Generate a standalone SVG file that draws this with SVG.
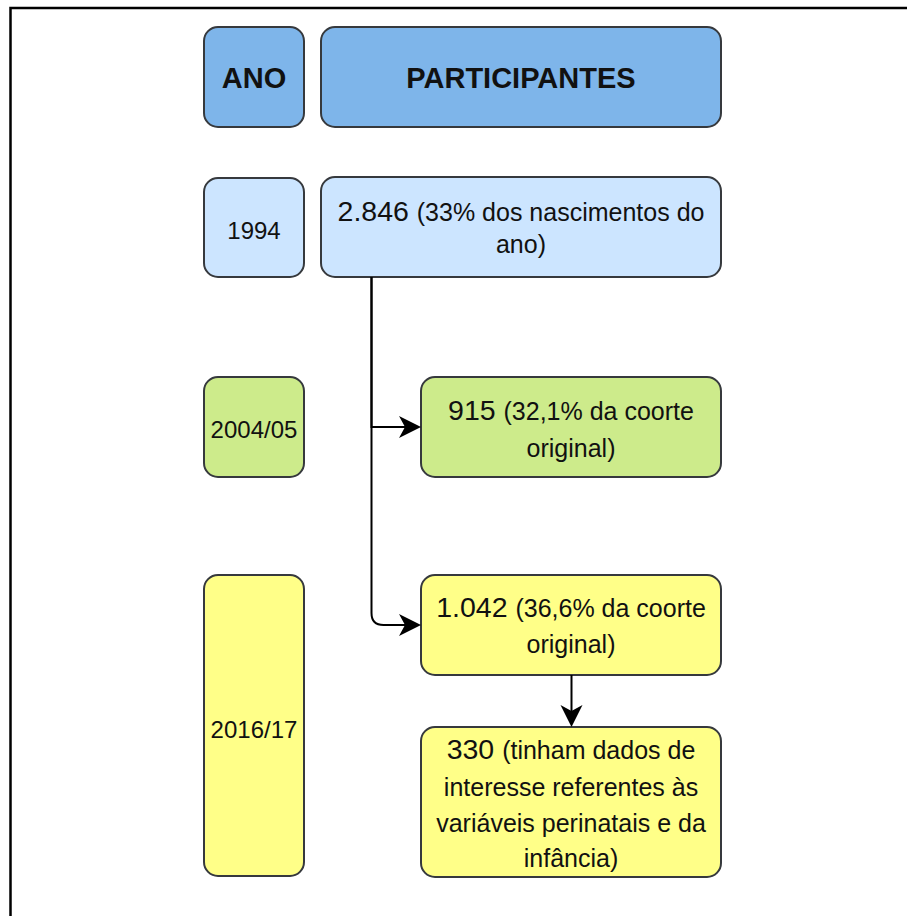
<svg xmlns="http://www.w3.org/2000/svg" width="907" height="916" viewBox="0 0 907 916">
<style>
.box{stroke:#36393d;stroke-width:2}
.hdr{fill:#7eb5ea}
.r1{fill:#cce5ff}
.r2{fill:#cdeb8b}
.r3{fill:#ffff88}
text{font-family:"Liberation Sans",Arial,sans-serif;fill:#111;text-anchor:middle}
.b{font-weight:bold;font-size:29px}
.y{font-size:24px}
.s{font-size:25px}
.l{font-size:28.5px}
.edge{fill:none;stroke:#000;stroke-width:2}
</style>
<defs>
<marker id="arr" markerUnits="userSpaceOnUse" markerWidth="24" markerHeight="24" refX="18" refY="11" orient="auto">
<path d="M0,0 L22,11 L0,22 L6,11 Z" fill="#000"/>
</marker>
</defs>
<rect width="907" height="916" fill="#fff"/>
<path d="M10.5,916 V8 H907" fill="none" stroke="#000" stroke-width="2.5"/>
<g id="hdr-ano"><rect class="box hdr" x="204" y="27" width="100" height="100" rx="14"/><text class="b" x="254" y="88">ANO</text></g>
<g id="hdr-part"><rect class="box hdr" x="321" y="27" width="400" height="100" rx="14"/><text class="b" x="521" y="88">PARTICIPANTES</text></g>
<g id="y1994"><rect class="box r1" x="204" y="178" width="100" height="99" rx="14"/><text class="y" x="254" y="239">1994</text></g>
<g id="p1994"><rect class="box r1" x="321" y="177" width="400" height="100" rx="14"/>
<text x="521" y="221"><tspan class="l">2.846 </tspan><tspan class="s">(33% dos nascimentos do</tspan></text>
<text class="s" x="521" y="253">ano)</text></g>
<g id="y2004"><rect class="box r2" x="204" y="377" width="100" height="100" rx="14"/><text class="y" x="254" y="438">2004/05</text></g>
<g id="p2004"><rect class="box r2" x="421" y="377" width="300" height="100" rx="14"/>
<text x="571" y="420"><tspan class="l">915 </tspan><tspan class="s">(32,1% da coorte</tspan></text>
<text class="s" x="571" y="457">original)</text></g>
<g id="y2016"><rect class="box r3" x="204" y="575" width="100" height="301" rx="14"/><text class="y" x="254" y="738">2016/17</text></g>
<g id="p2016"><rect class="box r3" x="421" y="575" width="300" height="100" rx="14"/>
<text x="571" y="617"><tspan class="l">1.042 </tspan><tspan class="s">(36,6% da coorte</tspan></text>
<text class="s" x="571" y="653">original)</text></g>
<g id="p330"><rect class="box r3" x="421" y="727" width="300" height="150" rx="14"/>
<text x="571" y="759"><tspan class="l">330 </tspan><tspan class="s">(tinham dados de</tspan></text>
<text class="s" x="571" y="796">interesse referentes às</text>
<text class="s" x="571" y="832">variáveis perinatais e da</text>
<text class="s" x="571" y="867">infância)</text></g>
<g id="connectors">
<path class="edge" d="M371.5,277 V427 H417" marker-end="url(#arr)"/>
<path class="edge" d="M371.5,277 V613 Q371.5,625 383.5,625 H417" marker-end="url(#arr)"/>
<path class="edge" d="M571.5,675 V723" marker-end="url(#arr)"/>
</g>
</svg>
